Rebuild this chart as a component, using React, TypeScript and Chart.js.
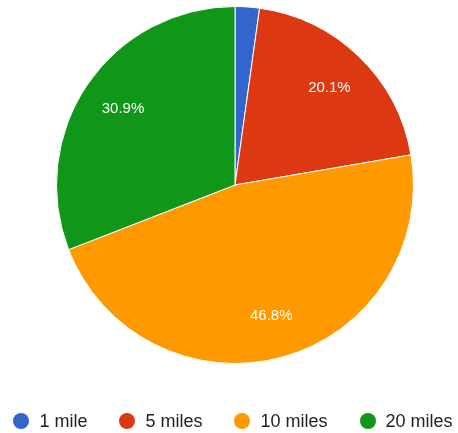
import React, { useEffect, useRef } from "react";
import { Chart, registerables } from "chart.js";

Chart.register(...registerables);

const categories = ["1 mile", "5 miles", "10 miles", "20 miles"];
const values = [2.2, 20.1, 46.8, 30.9];
const colors = ["#3366cc", "#dc3912", "#ff9900", "#109618"];

const FONT = "Arial, 'Liberation Sans', sans-serif";

const sliceLabels = {
  id: "sliceLabels",
  afterDatasetsDraw(chart: any) {
    const ctx = chart.ctx;
    const meta = chart.getDatasetMeta(0);
    const data = chart.data.datasets[0].data as number[];
    const total = data.reduce((a, b) => a + b, 0);
    ctx.save();
    ctx.font = `15px ${FONT}`;
    ctx.fillStyle = "#ffffff";
    ctx.textAlign = "center";
    ctx.textBaseline = "middle";
    meta.data.forEach((arc: any, i: number) => {
      const pct = (data[i] / total) * 100;
      if (pct < 5) return;
      const { x, y, startAngle, endAngle, outerRadius } = arc.getProps(
        ["x", "y", "startAngle", "endAngle", "outerRadius"],
        true
      );
      const mid = (startAngle + endAngle) / 2;
      const r = outerRadius * 0.76;
      ctx.fillText(pct.toFixed(1) + "%", x + Math.cos(mid) * r, y + Math.sin(mid) * r);
    });
    ctx.restore();
  },
};

export default function App() {
  const ref = useRef<HTMLCanvasElement | null>(null);
  useEffect(() => {
    if (!ref.current) return;
    const chart = new Chart(ref.current, {
      type: "pie",
      data: {
        labels: categories,
        datasets: [
          {
            data: values,
            backgroundColor: colors,
            borderColor: "#ffffff",
            borderWidth: 1,
          },
        ],
      },
      options: {
        animation: false,
        responsive: false,
        layout: { padding: { top: 6, left: 56, right: 44, bottom: 69 } },
        plugins: {
          legend: { display: false },
          tooltip: { enabled: false },
        },
      },
      plugins: [sliceLabels],
    });
    return () => chart.destroy();
  }, []);

  return (
    <div style={{ position: "absolute", left: 0, top: 0, width: 458, height: 433, background: "#fff" }}>
      <canvas ref={ref} width={458} height={433} style={{ display: "block" }} />
      <div
        style={{
          position: "absolute",
          left: 0,
          top: 411,
          width: 458,
          paddingLeft: 8,
          boxSizing: "border-box",
          display: "flex",
          justifyContent: "center",
          gap: 32,
          fontFamily: FONT,
          fontSize: 18,
          lineHeight: "20px",
          color: "#222",
          whiteSpace: "nowrap",
        }}
      >
        {categories.map((c, i) => (
          <div key={c} style={{ display: "flex", alignItems: "center" }}>
            <span
              style={{
                display: "inline-block",
                width: 16,
                height: 16,
                borderRadius: "50%",
                background: colors[i],
                marginRight: 10,
              }}
            />
            <span>{c}</span>
          </div>
        ))}
      </div>
    </div>
  );
}
